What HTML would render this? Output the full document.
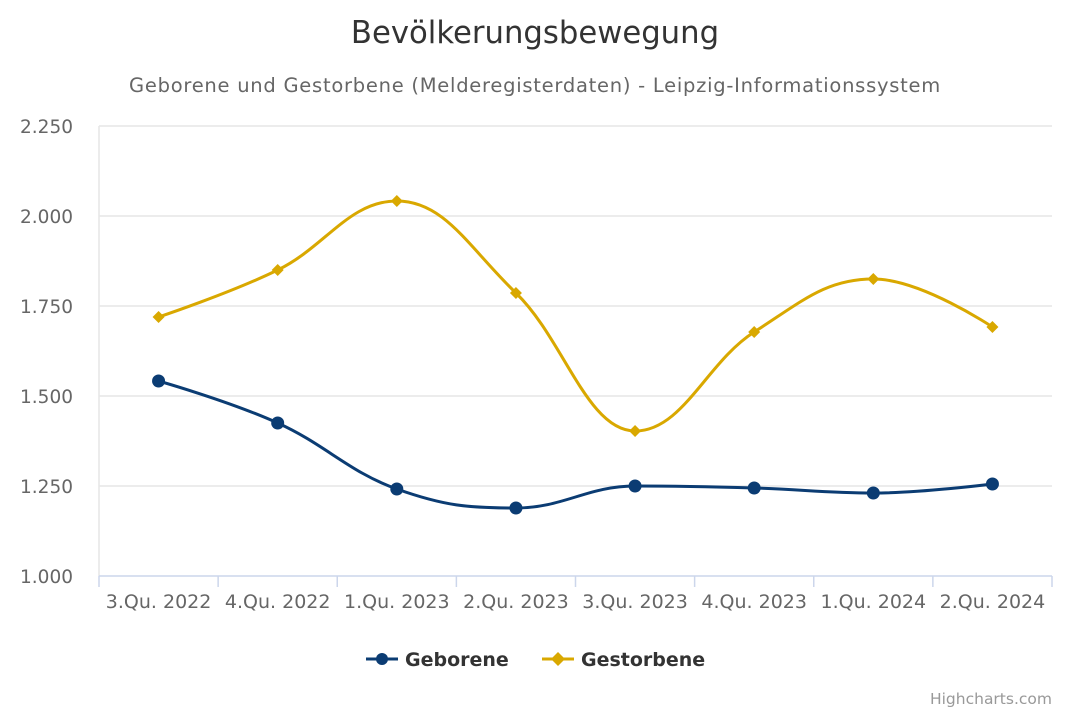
<!DOCTYPE html>
<html><head><meta charset="utf-8"><style>
html,body{margin:0;padding:0;background:#fff;}
svg{display:block;font-family:"DejaVu Sans","Liberation Sans",sans-serif;}
</style></head><body>
<svg id="c" width="1070" height="713" viewBox="0 0 1070 713">
<rect width="1070" height="713" fill="#fff"/>
<text x="535" y="43" text-anchor="middle" font-size="30.7" fill="#333">Bevölkerungsbewegung</text>
<text x="535" y="92" text-anchor="middle" font-size="19.5" letter-spacing="0.74" fill="#666">Geborene und Gestorbene (Melderegisterdaten) - Leipzig-Informationssystem</text>
<g stroke="#e6e6e6" stroke-width="1.5">
<line x1="99" x2="1052" y1="126" y2="126"/><line x1="99" x2="1052" y1="216" y2="216"/>
<line x1="99" x2="1052" y1="306" y2="306"/><line x1="99" x2="1052" y1="396" y2="396"/>
<line x1="99" x2="1052" y1="486" y2="486"/>
</g>
<line x1="99" x2="99" y1="126" y2="576" stroke="#e6e6e6" stroke-width="1.5"/>
<line x1="99" x2="1052" y1="576" y2="576" stroke="#ccd6eb" stroke-width="1.5"/>
<g font-size="18.5" fill="#666" text-anchor="end">
<text x="73" y="133">2.250</text><text x="73" y="223">2.000</text><text x="73" y="313">1.750</text>
<text x="73" y="403">1.500</text><text x="73" y="493">1.250</text><text x="73" y="583">1.000</text>
</g>
<g id="ticks" stroke="#ccd6eb" stroke-width="1.5"></g>
<g id="xl" font-size="19" fill="#666" text-anchor="middle"></g>
<g id="series"></g>
<g font-size="19" font-weight="bold" fill="#333">
<line x1="366" x2="398" y1="659" y2="659" stroke="#0b3c73" stroke-width="3"/>
<circle cx="382" cy="659" r="6" fill="#0b3c73"/>
<text x="405" y="666">Geborene</text>
<line x1="542" x2="574" y1="659" y2="659" stroke="#d9a800" stroke-width="3"/>
<path d="M558 652 L565 659 L558 666 L551 659Z" fill="#d9a800"/>
<text x="581" y="666">Gestorbene</text>
</g>
<text x="1052" y="704" text-anchor="end" font-size="15.5" fill="#999">Highcharts.com</text>
</svg>
<script>
var ns="http://www.w3.org/2000/svg";
function el(p,t,a,txt){var e=document.createElementNS(ns,t);for(var k in a)e.setAttribute(k,a[k]);if(txt)e.textContent=txt;p.appendChild(e);return e;}
var cats=["3.Qu. 2022","4.Qu. 2022","1.Qu. 2023","2.Qu. 2023","3.Qu. 2023","4.Qu. 2023","1.Qu. 2024","2.Qu. 2024"];
var w=(1052-99)/8,xs=[];
for(var i=0;i<8;i++){xs.push(99+w*(i+0.5));el(document.getElementById('xl'),'text',{x:99+w*(i+0.5),y:608},cats[i]);}
for(var i=0;i<=8;i++){var x=99+w*i;el(document.getElementById('ticks'),'line',{x1:x,x2:x,y1:576,y2:587});}
function path(ys){
 var pts=xs.map(function(x,i){return [x,ys[i]];}),d="M"+pts[0][0]+" "+pts[0][1];
 var L=[],R=[];
 for(var i=0;i<pts.length;i++){
  var p=pts[i];
  if(i==0||i==pts.length-1){L[i]=p.slice();R[i]=p.slice();continue;}
  var a=pts[i-1],b=pts[i+1];
  var lx=(1.5*p[0]+a[0])/2.5,ly=(1.5*p[1]+a[1])/2.5,rx=(1.5*p[0]+b[0])/2.5,ry=(1.5*p[1]+b[1])/2.5;
  var c=((ry-ly)*(rx-p[0]))/(rx-lx)+p[1]-ry;ly+=c;ry+=c;
  if(ly>a[1]&&ly>p[1]){ly=Math.max(a[1],p[1]);ry=2*p[1]-ly;}else if(ly<a[1]&&ly<p[1]){ly=Math.min(a[1],p[1]);ry=2*p[1]-ly;}
  if(ry>b[1]&&ry>p[1]){ry=Math.max(b[1],p[1]);ly=2*p[1]-ry;}else if(ry<b[1]&&ry<p[1]){ry=Math.min(b[1],p[1]);ly=2*p[1]-ry;}
  L[i]=[lx,ly];R[i]=[rx,ry];
 }
 for(var i=1;i<pts.length;i++)d+=" C"+R[i-1][0]+" "+R[i-1][1]+" "+L[i][0]+" "+L[i][1]+" "+pts[i][0]+" "+pts[i][1];
 return d;
}
var g=document.getElementById('series');
var geb=[381,423,489,508,486,488,493,484],ges=[317,270,201,293,431,332,279,327];
el(g,'path',{d:path(geb),fill:'none',stroke:'#0b3c73','stroke-width':3});
el(g,'path',{d:path(ges),fill:'none',stroke:'#d9a800','stroke-width':3});
for(var i=0;i<8;i++){
 el(g,'circle',{cx:xs[i],cy:geb[i],r:6.5,fill:'#0b3c73'});
 var x=xs[i],y=ges[i];
 el(g,'path',{d:"M"+x+" "+(y-6)+" L"+(x+6)+" "+y+" L"+x+" "+(y+6)+" L"+(x-6)+" "+y+"Z",fill:'#d9a800'});
}
</script>
</body></html>
